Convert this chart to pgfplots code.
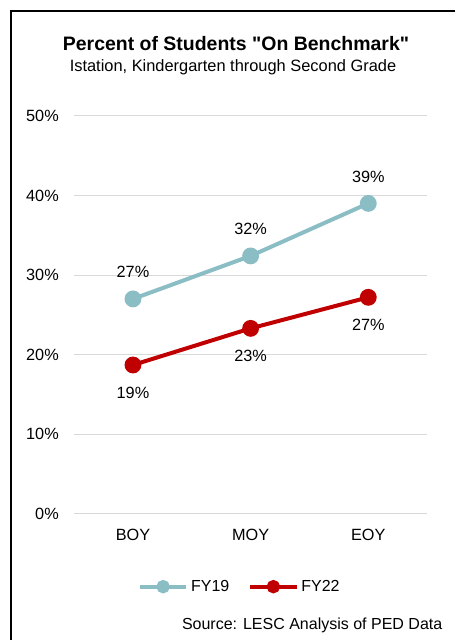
\documentclass[border=0pt]{standalone}
\usepackage{pgfplots}
\pgfplotsset{compat=1.18}
\usepackage{fontspec}
\setmainfont{Liberation Sans}
\definecolor{fyone}{HTML}{8BBDC4}
\definecolor{fytwo}{HTML}{C00000}
\definecolor{gridc}{HTML}{D9D9D9}
\begin{document}
\begin{tikzpicture}[x=0.75pt,y=0.75pt]
\path[use as bounding box] (0,0) rectangle (455,640);
\draw[line width=1.2pt] (11,0) -- (11,629) -- (455,629);
\node[font=\bfseries\fontsize{14.6}{18}\selectfont] at (236,596) {Percent of Students \textquotedbl On Benchmark\textquotedbl};
\node[font=\fontsize{12.3}{14}\selectfont] at (233,573) {Istation, Kindergarten through Second Grade};
\node[font=\fontsize{12}{14}\selectfont, anchor=east] at (447,15) {Source: LESC Analysis of PED Data};
\begin{axis}[
  at={(63,158.5)}, anchor=south west,
  width=264.75pt, height=298.5pt, scale only axis,
  xmin=-0.5, xmax=2.5, ymin=0, ymax=50,
  xtick={0,1,2}, xticklabels={BOY,MOY,EOY},
  ytick={0,10,20,30,40,50},
  yticklabel={\pgfmathprintnumber{\tick}\%},
  axis line style={draw=none},
  major tick length=0pt,
  ymajorgrids, grid style={gridc, line width=0.8pt},
  tick label style={font=\fontsize{12.2}{14}\selectfont},
  yticklabel style={xshift=-8pt},
  xticklabel style={yshift=-8pt},
  /pgf/number format/assume math mode=true,
  clip=false,
  legend columns=2,
  legend style={draw=none, at={(0.47,-0.183)}, anchor=center, font=\fontsize{12}{14}\selectfont,
    /tikz/every even column/.append style={column sep=12pt}},
  legend image code/.code={\draw[#1, mark=none] (0pt,0pt) -- (35pt,0pt); \fill[#1] (17.5pt,0pt) circle (3.5pt);},
  nodes near coords={\pgfmathprintnumber[fixed,precision=0]{\pgfplotspointmeta}\%},
  every node near coord/.append style={font=\fontsize{12.2}{14}\selectfont, text=black, anchor=center},
]
\addplot[fyone, line width=3pt, mark=*, mark size=4.8pt, mark options={fill=fyone, draw=fyone},
  every node near coord/.append style={yshift=20pt}]
  coordinates {(0,27.0) (1,32.4) (2,39.0)};
\addlegendentry{FY19}
\addplot[fytwo, line width=3pt, mark=*, mark size=4.8pt, mark options={fill=fytwo, draw=fytwo},
  every node near coord/.append style={yshift=-21pt}]
  coordinates {(0,18.7) (1,23.3) (2,27.2)};
\addlegendentry{FY22}
\end{axis}
\end{tikzpicture}
\end{document}
